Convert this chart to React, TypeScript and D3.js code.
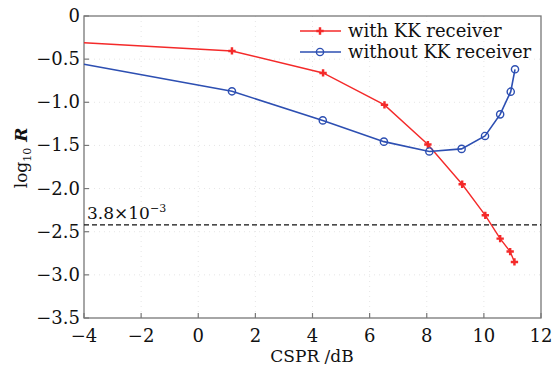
import React from "react";
import * as d3 from "d3";

const withKK_x = [-4, 1.18, 4.37, 6.52, 8.04, 9.24, 10.05, 10.57, 10.92, 11.07];
const withKK_y = [-0.31, -0.405, -0.66, -1.03, -1.49, -1.95, -2.31, -2.58, -2.73, -2.85];
const withoutKK_x = [-4, 1.18, 4.36, 6.5, 8.09, 9.22, 10.04, 10.57, 10.94, 11.09];
const withoutKK_y = [-0.56, -0.873, -1.21, -1.456, -1.57, -1.54, -1.39, -1.14, -0.877, -0.618];
const xTicks = [-4, -2, 0, 2, 4, 6, 8, 10, 12];
const yTicks = [0, -0.5, -1.0, -1.5, -2.0, -2.5, -3.0, -3.5];
const thresholdY = Math.log10(3.8e-3);
const seriesNames = ["with KK receiver", "without KK receiver"];

const W = 559, H = 369;
const L = 84, R = 541, T = 16, B = 318;
const RED = "#f42a2a";
const BLUE = "#2d4fb2";
const FONT = "DejaVu Serif, serif";

export default function App() {
  const x = d3.scaleLinear().domain([-4, 12]).range([L, R]);
  const y = d3.scaleLinear().domain([-3.5, 0]).range([B, T]);
  const line = d3.line<[number, number]>().x(d => x(d[0])).y(d => y(d[1]));
  const red: [number, number][] = withKK_x.map((v, i) => [v, withKK_y[i]]);
  const blue: [number, number][] = withoutKK_x.map((v, i) => [v, withoutKK_y[i]]);
  const star = d3.symbol().type(d3.symbolCross).size(30)();
  const fmt = (v: number) => (v === 0 ? "0" : v.toFixed(1).replace("-", "\u2212"));
  const fmtX = (v: number) => String(v).replace("-", "\u2212");

  return (
    <svg width={W} height={H} style={{ position: "absolute", left: 0, top: 0, background: "#fff" }}>
      {xTicks.slice(1, -1).map(t => (
        <line key={"gx" + t} x1={x(t)} x2={x(t)} y1={T} y2={B} stroke="#e6e6e6" strokeDasharray="1,4" />
      ))}
      {yTicks.slice(1, -1).map(t => (
        <line key={"gy" + t} x1={L} x2={R} y1={y(t)} y2={y(t)} stroke="#e6e6e6" strokeDasharray="1,4" />
      ))}
      <rect x={L} y={T} width={R - L} height={B - T} fill="none" stroke="#777" strokeWidth={1.3} />
      {xTicks.map(t => (
        <g key={"xt" + t}>
          <line x1={x(t)} x2={x(t)} y1={B} y2={B - 5} stroke="#777" strokeWidth={1.2} />
          <text x={x(t)} y={342} textAnchor="middle" fontFamily={FONT} fontSize={18} fill="#111">{fmtX(t)}</text>
        </g>
      ))}
      {yTicks.map(t => (
        <g key={"yt" + t}>
          <line x1={L} x2={L + 5} y1={y(t)} y2={y(t)} stroke="#777" strokeWidth={1.2} />
          <text x={L - 4} y={y(t) + 6} textAnchor="end" fontFamily={FONT} fontSize={18} fill="#111">{fmt(t)}</text>
        </g>
      ))}
      <line x1={L} x2={R} y1={y(thresholdY)} y2={y(thresholdY)} stroke="#111" strokeWidth={1.4} strokeDasharray="5,3" />
      <text x={L + 3} y={y(thresholdY) - 6} fontFamily={FONT} fontSize={17} fill="#111">
        3.8×10<tspan dy={-7} fontSize={11}>−3</tspan>
      </text>
      <path d={line(red) || ""} fill="none" stroke={RED} strokeWidth={1.4} />
      <path d={line(blue) || ""} fill="none" stroke={BLUE} strokeWidth={1.6} />
      {red.slice(1).map((d, i) => (
        <path key={"rm" + i} d={star || ""} transform={`translate(${x(d[0])},${y(d[1])})`} fill={RED} />
      ))}
      {blue.slice(1).map((d, i) => (
        <circle key={"bm" + i} cx={x(d[0])} cy={y(d[1])} r={3.6} fill="none" stroke={BLUE} strokeWidth={1.4} />
      ))}
      <line x1={300} x2={341} y1={31} y2={31} stroke={RED} strokeWidth={1.4} />
      <path d={star || ""} transform="translate(320,31)" fill={RED} />
      <text x={348} y={37} fontFamily={FONT} fontSize={18} fill="#111">{seriesNames[0]}</text>
      <line x1={300} x2={341} y1={52} y2={52} stroke={BLUE} strokeWidth={1.6} />
      <circle cx={320} cy={52} r={3.6} fill="none" stroke={BLUE} strokeWidth={1.4} />
      <text x={348} y={58} fontFamily={FONT} fontSize={18} fill="#111">{seriesNames[1]}</text>
      <text x={312} y={362} textAnchor="middle" fontFamily={FONT} fontSize={17} fill="#111">CSPR /dB</text>
      <text transform="translate(27,158) rotate(-90)" textAnchor="middle" fontFamily={FONT} fontSize={17} fill="#111">
        log<tspan fontSize={11} dy={4}>10</tspan><tspan dy={-4} fontStyle="italic" fontWeight="bold"> R</tspan>
      </text>
    </svg>
  );
}
